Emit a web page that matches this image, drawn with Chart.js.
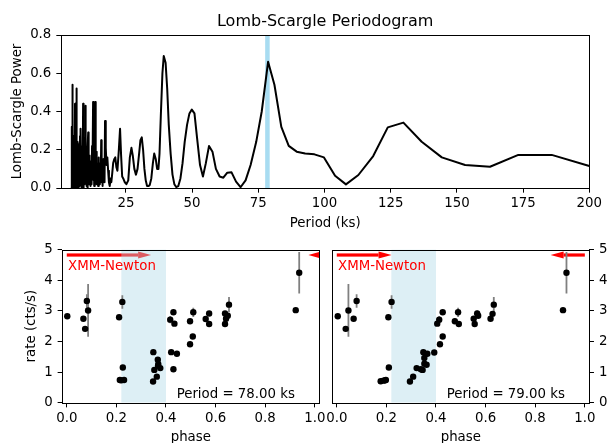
<!DOCTYPE html>
<html><head><meta charset="utf-8">
<script src="https://cdn.jsdelivr.net/npm/chart.js@4.4.0/dist/chart.umd.min.js"></script>
<style>
html,body{margin:0;padding:0;background:#fff;overflow:hidden;width:611px;height:443px;position:relative;}
canvas{position:absolute;}
</style></head><body>
<canvas id="topc" width="611" height="232" style="left:0;top:0;width:611px;height:232px"></canvas>
<canvas id="blc" width="330" height="230" style="left:0;top:232px;width:330px;height:230px"></canvas>
<canvas id="brc" width="311" height="230" style="left:300px;top:232px;width:311px;height:230px"></canvas>
<script>
// ---------- DATA ----------
const periods = [
4.50,4.54,4.58,4.62,4.66,4.70,4.74,4.78,4.82,4.86,4.90,4.94,4.98,5.02,5.06,5.10,
5.15,5.20,5.25,5.30,5.35,5.40,5.45,5.50,5.55,5.60,5.65,5.70,5.75,5.80,5.85,5.90,5.95,6.00,
6.06,6.12,6.18,6.24,6.30,6.36,6.42,6.48,6.54,6.60,6.66,6.72,6.78,6.84,6.90,
6.97,7.04,7.11,7.18,7.25,7.32,7.39,7.46,7.53,7.60,
7.68,7.76,7.84,7.92,8.00,8.08,8.16,8.24,8.32,8.40,
8.49,8.58,8.67,8.76,8.85,8.94,9.03,9.12,9.21,9.30,
9.40,9.50,9.60,9.70,9.80,9.90,10.00,
10.11,10.22,10.33,10.44,10.55,10.66,10.77,10.88,10.99,
11.11,11.23,11.35,11.47,11.59,11.71,
11.84,11.97,12.10,12.23,12.36,12.49,
12.62,12.76,12.90,13.04,13.18,13.32,13.46,13.60,
13.75,13.90,14.05,14.20,
14.36,14.52,14.68,14.84,15.00,
15.17,15.34,15.51,15.68,15.85,
16.03,16.21,16.39,16.57,16.75,
16.94,17.13,
17.40,17.70,18.00,18.30,18.60,18.90,19.20,19.50,19.80,20.20,20.60,21.00,21.40,21.80,22.30,22.80,23.20,23.60,
24.00,24.60,25.20,25.90,26.50,27.10,27.60,28.20,28.80,29.40,30.00,30.50,31.00,31.50,32.00,32.50,33.00,33.50,
34.00,34.60,35.20,35.70,36.30,36.80,37.30,37.70,38.20,38.80,39.30,40.00,40.60,41.20,41.90,42.60,43.30,44.00,
44.80,45.60,46.40,47.20,48.10,49.00,49.90,50.90,51.90,53.00,54.10,55.20,56.40,57.70,59.00,60.40,61.80,63.30,
64.90,66.60,68.30,70.20,72.10,74.20,76.30,78.70,81.10,83.70,86.50,89.50,92.70,96.20,99.80,104.0,108.1,112.8,
118.4,123.9,129.8,136.7,144.3,153.1,162.5,173.2,185.8,200.0
];
const lsPower = [
0.00,0.32,0.03,0.20,0.01,0.26,0.02,0.12,0.04,0.54,0.06,0.23,0.01,0.17,0.03,0.27,
0.00,0.14,0.02,0.22,0.05,0.11,0.00,0.19,0.03,0.26,0.01,0.15,0.04,0.44,0.07,0.21,0.00,0.12,
0.03,0.25,0.01,0.18,0.05,0.52,0.08,0.20,0.00,0.13,0.02,0.24,0.04,0.16,0.01,
0.20,0.03,0.11,0.00,0.18,0.05,0.14,0.01,0.23,0.04,
0.27,0.06,0.15,0.02,0.31,0.04,0.12,0.00,0.19,0.03,
0.14,0.01,0.22,0.05,0.44,0.06,0.17,0.00,0.26,0.03,
0.12,0.02,0.20,0.05,0.43,0.04,0.10,
0.01,0.18,0.03,0.13,0.00,0.21,0.29,0.06,0.12,
0.02,0.17,0.04,0.11,0.01,0.14,
0.03,0.09,0.02,0.22,0.05,0.15,
0.45,0.04,0.24,0.01,0.13,0.06,0.45,0.08,
0.19,0.02,0.14,0.04,
0.11,0.01,0.16,0.05,0.10,
0.02,0.13,0.04,0.25,0.03,
0.09,0.01,0.15,0.05,0.12,
0.03,0.35,
0.21,0.12,0.16,0.09,0.03,0.01,0.05,0.03,0.07,0.13,0.15,0.16,0.11,0.09,0.19,0.31,0.17,0.06,
0.05,0.03,0.02,0.04,0.16,0.21,0.17,0.10,0.07,0.10,0.18,0.25,0.265,0.20,0.10,0.04,0.01,0.01,
0.015,0.05,0.13,0.18,0.15,0.10,0.10,0.18,0.38,0.60,0.69,0.655,0.52,0.33,0.18,0.07,0.02,0.005,
0.01,0.05,0.13,0.24,0.33,0.39,0.41,0.39,0.26,0.12,0.06,0.13,0.22,0.19,0.10,0.06,0.054,0.08,
0.082,0.033,0.004,0.04,0.12,0.24,0.40,0.66,0.54,0.32,0.22,0.19,0.18,0.176,0.16,0.064,0.019,0.068,
0.167,0.317,0.342,0.242,0.16,0.12,0.111,0.173,0.173,0.115
];
const periodTicks = [25, 50, 75, 100, 125, 150, 175, 200];
const powerTicks = [0, 0.2, 0.4, 0.6, 0.8];
const bestPeriodBand = [77.6, 79.3];

const phaseTicks = [0, 0.2, 0.4, 0.6, 0.8, 1.0];
const rateTicks = [0, 1, 2, 3, 4, 5];
const phaseBand = [0.22, 0.40];
const foldPeriods = [78, 79];

const phase78 = [0.002,0.067,0.074,0.081,0.086,0.211,0.224,0.214,0.220,0.226,0.231,0.349,0.348,0.353,0.363,0.367,0.369,0.377,0.368,
  0.417,0.430,0.434,0.421,0.444,0.430,0.497,0.508,0.497,0.510,0.560,0.574,0.574,0.638,0.638,0.642,0.649,0.654,0.923,0.937];
const rate78 = [2.82,2.74,2.41,3.32,3.01,2.79,3.29,0.74,0.73,1.15,0.74,1.65,0.69,1.07,0.85,1.40,1.26,1.13,1.21,
  2.71,2.95,2.58,1.65,1.60,1.09,1.91,2.16,2.66,2.95,2.73,2.91,2.57,2.91,2.57,2.74,2.84,3.20,3.02,4.24];
const err78 = [0,0,0,0.22,0.86,0,0.22,0,0,0,0,0,0,0,0,0,0,0,0,
  0.12,0,0,0,0,0,0,0,0,0.15,0.1,0,0,0,0,0,0,0.25,0,0.68];

const phase79 = [0.004,0.036,0.047,0.068,0.080,0.208,0.221,0.210,0.177,0.188,0.194,0.198,0.295,0.308,0.322,0.339,0.346,0.353,0.362,
  0.353,0.349,0.365,0.393,0.405,0.413,0.416,0.427,0.427,0.476,0.489,0.492,0.552,0.556,0.566,0.570,0.620,0.628,0.633,0.912,0.926];
const rate79 = [2.82,2.41,3.01,2.74,3.32,2.79,3.29,1.15,0.70,0.72,0.73,0.74,0.69,0.85,1.13,1.09,1.07,1.27,1.24,
  1.46,1.65,1.60,1.64,2.58,2.71,1.91,2.16,2.95,2.66,2.95,2.57,2.74,2.57,2.91,2.84,2.74,2.90,3.20,3.02,4.24];
const err79 = [0,0,0.86,0,0.22,0,0.22,0,0,0,0,0,0,0,0,0,0,0,0,
  0,0,0,0,0,0.12,0,0,0,0,0.15,0,0,0,0.1,0,0,0,0.25,0,0.68];

const arrowTail78 = [0, 1.11];
const arrowTip78 = [0.34, 0.974];
const arrowTail79 = [0, 1.0];
const arrowTip79 = [0.221, 0.862];
const arrowLevel = 4.82;
const obsLabel = 'XMM-Newton';
const obsLabelPos = [0.005, 4.33];

// ---------- STYLE ----------
const FONT = "'DejaVu Sans', 'Liberation Sans', sans-serif";
const FS = 13.33;
Chart.defaults.font.family = FONT;
Chart.defaults.color = '#000';

function frameDraw(chart) {
  const {ctx, chartArea: a} = chart;
  ctx.save();
  ctx.strokeStyle = '#000';
  ctx.lineWidth = 1;
  ctx.strokeRect(Math.round(a.left) + 0.5, Math.round(a.top) + 0.5,
                 Math.round(a.right) - Math.round(a.left), Math.round(a.bottom) - Math.round(a.top));
  ctx.restore();
}

function gridOpts() {
  return {display: true, drawOnChartArea: false, drawTicks: true, tickLength: 4.67, tickColor: '#000', tickWidth: 1};
}

// ---------- TOP: periodogram ----------
const topPlugin = {
  id: 'topDeco',
  beforeDatasetsDraw(chart) {
    const {ctx, chartArea: a, scales: {x}} = chart;
    const x0 = x.getPixelForValue(bestPeriodBand[0]);
    const x1 = x.getPixelForValue(bestPeriodBand[1]);
    ctx.save();
    ctx.fillStyle = 'rgba(135,206,235,0.72)';
    ctx.fillRect(x0, a.top, x1 - x0, a.bottom - a.top);
    ctx.restore();
  },
  afterDatasetsDraw: frameDraw
};

new Chart(document.getElementById('topc'), {
  type: 'line',
  data: {
    datasets: [{
      data: periods.map((p, i) => ({x: p, y: lsPower[i]})),
      borderColor: '#000', borderWidth: 2, pointRadius: 0, pointHoverRadius: 0,
      tension: 0, fill: false, borderJoinStyle: 'round', borderCapStyle: 'round'
    }]
  },
  options: {
    responsive: false, animation: false, events: [],
    layout: {padding: {left: 0, right: 21.7, top: 0, bottom: 0}},
    plugins: {
      legend: {display: false}, tooltip: {enabled: false},
      title: {display: true, text: 'Lomb-Scargle Periodogram', fullSize: false, color: '#000',
              font: {family: FONT, size: 16, weight: 'normal'}, padding: {top: 12, bottom: 3.8}}
    },
    scales: {
      x: {
        type: 'linear', min: 0.5, max: 200,
        afterBuildTicks: s => { s.ticks = periodTicks.map(v => ({value: v})); },
        afterFit: s => { s.height = 44; },
        grid: gridOpts(), border: {display: false},
        ticks: {color: '#000', font: {family: FONT, size: FS}, padding: 3, maxRotation: 0, autoSkip: false,
                callback: v => String(v)},
        title: {display: true, text: 'Period (ks)', color: '#000', font: {family: FONT, size: FS},
                padding: {top: 0, bottom: 0.4}}
      },
      y: {
        min: 0, max: 0.8,
        afterBuildTicks: s => { s.ticks = powerTicks.map(v => ({value: v})); },
        afterFit: s => { s.width = 61; },
        grid: gridOpts(), border: {display: false},
        ticks: {color: '#000', font: {family: FONT, size: FS}, padding: 5, callback: v => v.toFixed(1)},
        title: {display: true, text: 'Lomb-Scargle Power', color: '#000', font: {family: FONT, size: FS},
                padding: {top: 9.4, bottom: 0}}
      }
    }
  },
  plugins: [topPlugin]
});

// ---------- BOTTOM: folded light curves ----------
function foldPlugin(cfg) {
  return {
    id: 'fold' + cfg.period,
    beforeDatasetsDraw(chart) {
      const {ctx, chartArea: a, scales: {x, y}} = chart;
      ctx.save();
      ctx.beginPath();
      ctx.rect(a.left, a.top, a.right - a.left, a.bottom - a.top);
      ctx.clip();
      const ay = y.getPixelForValue(arrowLevel);
      ctx.fillStyle = '#ff0000';
      cfg.tails.forEach((t, i) => {
        const x0 = x.getPixelForValue(t), x1 = x.getPixelForValue(cfg.tips[i]);
        const dir = Math.sign(x1 - x0);
        const hb = x1 - dir * 13;
        ctx.fillRect(Math.min(x0, hb), ay - 1.6, Math.abs(hb - x0), 3.2);
        ctx.beginPath();
        ctx.moveTo(x1, ay);
        ctx.lineTo(hb, ay - 3.6);
        ctx.lineTo(hb, ay + 3.6);
        ctx.closePath();
        ctx.fill();
      });
      const bx0 = x.getPixelForValue(phaseBand[0]), bx1 = x.getPixelForValue(phaseBand[1]);
      ctx.fillStyle = 'rgba(173,216,230,0.42)';
      ctx.fillRect(bx0, a.top, bx1 - bx0, a.bottom - a.top);
      ctx.strokeStyle = '#808080';
      ctx.lineWidth = 1.8;
      cfg.phases.forEach((p, i) => {
        const e = cfg.errs[i];
        if (!e) return;
        const px = x.getPixelForValue(p);
        ctx.beginPath();
        ctx.moveTo(px, y.getPixelForValue(cfg.rates[i] - e));
        ctx.lineTo(px, y.getPixelForValue(cfg.rates[i] + e));
        ctx.stroke();
      });
      ctx.font = FS + 'px ' + FONT;
      ctx.textBaseline = 'alphabetic';
      ctx.fillStyle = '#ff0000';
      ctx.textAlign = 'left';
      ctx.fillText(obsLabel, x.getPixelForValue(obsLabelPos[0]), y.getPixelForValue(obsLabelPos[1]));
      ctx.fillStyle = '#000';
      ctx.textAlign = 'right';
      ctx.fillText('Period = ' + cfg.period.toFixed(2) + ' ks', a.left + 0.905 * (a.right - a.left), a.bottom - 4.4);
      ctx.restore();
    },
    afterDatasetsDraw: frameDraw
  };
}

function makeFold(id, cfg, side, pad, yWidth) {
  const yOpts = {
    position: side, min: 0, max: 5,
    afterBuildTicks: s => { s.ticks = rateTicks.map(v => ({value: v})); },
    afterFit: s => { s.width = yWidth; },
    grid: gridOpts(), border: {display: false},
    ticks: {color: '#000', font: {family: FONT, size: FS}, padding: 5, callback: v => String(v)},
    title: side === 'left'
      ? {display: true, text: 'rate (cts/s)', color: '#000', font: {family: FONT, size: FS}, padding: {top: 23.5, bottom: 0}}
      : {display: false}
  };
  new Chart(document.getElementById(id), {
    type: 'scatter',
    data: {
      datasets: [{
        data: cfg.phases.map((p, i) => ({x: p, y: cfg.rates[i]})),
        pointRadius: 3.2, pointHoverRadius: 0, backgroundColor: '#000', borderWidth: 0, showLine: false
      }]
    },
    options: {
      responsive: false, animation: false, events: [],
      layout: {padding: pad},
      plugins: {legend: {display: false}, tooltip: {enabled: false}},
      scales: {
        x: {
          type: 'linear', min: -0.018, max: 1.018,
          afterBuildTicks: s => { s.ticks = phaseTicks.map(v => ({value: v})); },
          afterFit: s => { s.height = 59.3; },
          grid: gridOpts(), border: {display: false},
          ticks: {color: '#000', font: {family: FONT, size: FS}, padding: 3, maxRotation: 0, autoSkip: false,
                  callback: v => v.toFixed(1)},
          title: {display: true, text: 'phase', color: '#000', font: {family: FONT, size: FS},
                  padding: {top: 0, bottom: 16}}
        },
        y: yOpts
      }
    },
    plugins: [foldPlugin(cfg)]
  });
}

makeFold('blc', {period: foldPeriods[0], phases: phase78, rates: rate78, errs: err78, tails: arrowTail78, tips: arrowTip78},
         'left', {left: 0, right: 10.7, top: 17.5, bottom: 0}, 62.3);
makeFold('brc', {period: foldPeriods[1], phases: phase79, rates: rate79, errs: err79, tails: arrowTail79, tips: arrowTip79},
         'right', {left: 32.3, right: 0, top: 17.5, bottom: 0}, 21.7);
</script>
</body></html>
